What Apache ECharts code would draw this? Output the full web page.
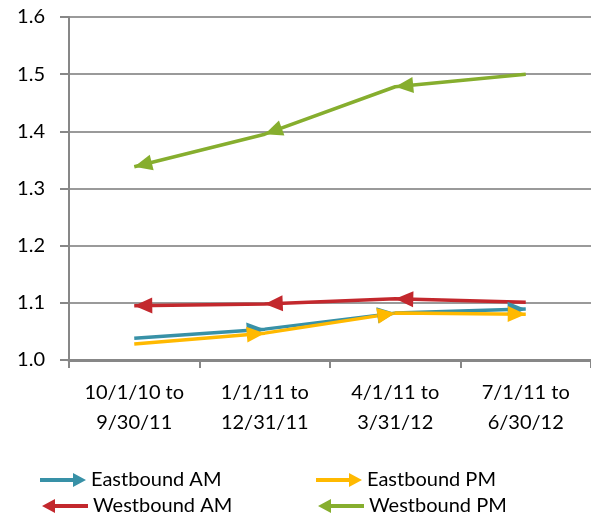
<!DOCTYPE html>
<html>
<head>
<meta charset="utf-8">
<script src="https://cdn.jsdelivr.net/npm/echarts@6/dist/echarts.min.js"></script>
<style>
html,body{margin:0;padding:0;background:#fff;}
#chart{width:591px;height:517px;}
</style>
</head>
<body>
<div id="chart"></div>
<script>
const categories = ['10/1/10 to\n9/30/11', '1/1/11 to\n12/31/11', '4/1/11 to\n3/31/12', '7/1/11 to\n6/30/12'];
const yTicks = [1.0, 1.1, 1.2, 1.3, 1.4, 1.5, 1.6];
const eastboundAM = [1.038, 1.054, 1.082, 1.089];
const eastboundPM = [1.028, 1.047, 1.082, 1.080];
const westboundAM = [1.095, 1.098, 1.107, 1.101];
const westboundPM = [1.338, 1.395, 1.478, 1.500];

const seriesDefs = [
  {name: 'Eastbound AM', data: eastboundAM, color: '#3891A7', dir: 'east'},
  {name: 'Eastbound PM', data: eastboundPM, color: '#FFB900', dir: 'east'},
  {name: 'Westbound AM', data: westboundAM, color: '#C3282D', dir: 'west'},
  {name: 'Westbound PM', data: westboundPM, color: '#86AE2E', dir: 'west'}
];

const RIGHT_ICON = 'path://M0,5 L33,5 L33,0 L46,7 L33,14 L33,9 L0,9 Z';
const LEFT_ICON = 'path://M46,5 L13,5 L13,0 L0,7 L13,14 L13,9 L46,9 Z';

const font = 'Lato, "Open Sans", sans-serif';
const chart = echarts.init(document.getElementById('chart'), null, {renderer: 'canvas'});

function legendFor(name, icon, left, top) {
  return {
    data: [{name: name, icon: icon}],
    left: left, top: top,
    itemWidth: 46, itemHeight: 15,
    padding: 0,
    selectedMode: false,
    textStyle: {fontFamily: font, fontSize: 20, color: '#000', lineHeight: 22}
  };
}

const AW = 16, AH = 18;

const baseOption = {
  animation: false,
  grid: {left: 69, top: 17, width: 523, height: 343, containLabel: false},
  legend: [
    legendFor('Eastbound AM', RIGHT_ICON, 40, 469),
    legendFor('Eastbound PM', RIGHT_ICON, 316, 469),
    legendFor('Westbound AM', LEFT_ICON, 42, 495),
    legendFor('Westbound PM', LEFT_ICON, 318, 495)
  ],
  xAxis: {
    type: 'category',
    data: categories,
    boundaryGap: true,
    axisLine: {lineStyle: {color: '#878787', width: 3}},
    axisTick: {show: true, length: 8, alignWithLabel: false, lineStyle: {color: '#878787', width: 2}},
    axisLabel: {fontFamily: font, fontSize: 20, color: '#000', lineHeight: 30, margin: 18, interval: 0}
  },
  yAxis: {
    type: 'value',
    min: yTicks[0], max: yTicks[yTicks.length - 1], interval: 0.1,
    axisLine: {show: true, lineStyle: {color: '#878787', width: 2}},
    axisTick: {show: true, length: 9, lineStyle: {color: '#878787', width: 2}},
    splitLine: {show: true, lineStyle: {color: '#9a9a9a', width: 2}},
    axisLabel: {fontFamily: font, fontSize: 20, color: '#000', margin: 24,
      formatter: v => v.toFixed(1)}
  },
  series: seriesDefs.map(s => ({
    name: s.name,
    type: 'line',
    data: s.data,
    color: s.color,
    lineStyle: {color: s.color, width: 3.5},
    itemStyle: {color: s.color, borderWidth: 0},
    symbol: 'none',
    symbolSize: [AW, AH],
    emphasis: {disabled: true}
  }))
};

chart.setOption(baseOption);

// Compute arrowhead orientation from the rendered axes
const newSeries = seriesDefs.map((s, si) => {
  const pts = s.data.map((v, i) => chart.convertToPixel({gridIndex: 0}, [i, v]));
  const data = s.data.map((v, i) => {
    let from = null;
    if (s.dir === 'east' && i > 0) from = pts[i - 1];
    if (s.dir === 'west' && i < s.data.length - 1) from = pts[i + 1];
    if (!from) return {value: v, symbol: 'none'};
    const dx = pts[i][0] - from[0], dy = pts[i][1] - from[1];
    const len = Math.sqrt(dx * dx + dy * dy);
    const ux = dx / len, uy = dy / len;
    const phi = Math.atan2(-dy, dx) * 180 / Math.PI;
    return {
      value: v,
      symbol: 'triangle',
      symbolSize: [AW, AH],
      symbolRotate: phi - 90,
      symbolOffset: [-ux * AH / 2, -uy * AH / 2]
    };
  });
  return {name: s.name, data: data, symbol: 'triangle', symbolSize: [AW, AH], symbolKeepAspect: false, showSymbol: true, showAllSymbol: true};
});
chart.setOption({series: newSeries});
</script>
</body>
</html>
